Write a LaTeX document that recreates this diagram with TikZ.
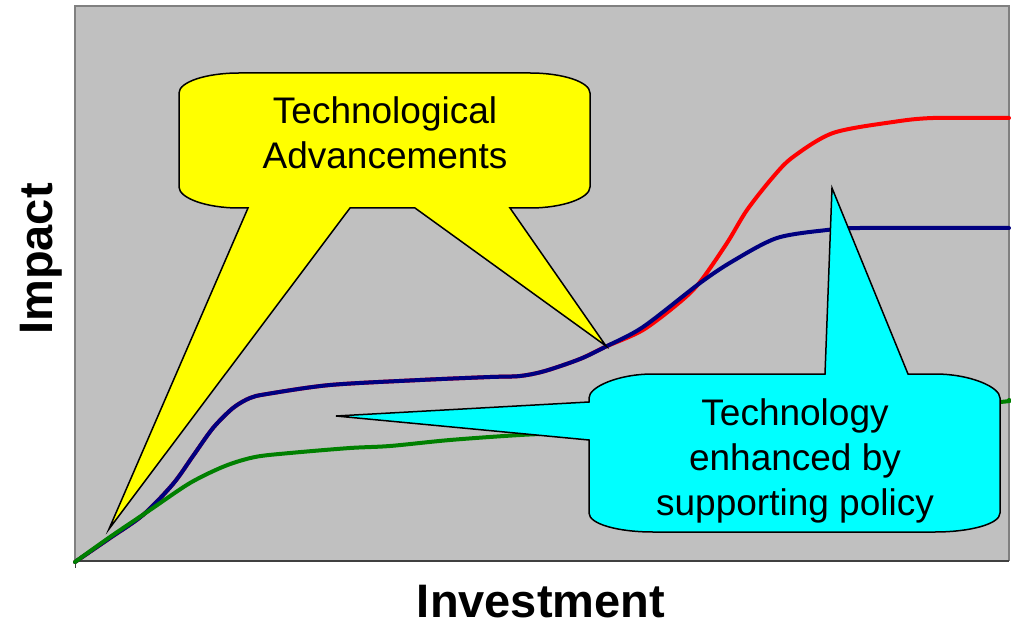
\documentclass[tikz,border=0pt]{standalone}
\usepackage{fontspec}
\setmainfont{Liberation Sans}
\definecolor{fondo}{HTML}{C0C0C0}
\definecolor{borde}{HTML}{808080}
\definecolor{azul}{HTML}{000080}
\definecolor{verde}{HTML}{008000}
\definecolor{amarillo}{HTML}{FFFF00}
\definecolor{cian}{HTML}{00FFFF}
\begin{document}
\begin{tikzpicture}[x=1bp,y=-1bp,
    curva/.style={line width=4bp,line join=round,line cap=round},
    globo/.style={draw=black,line width=1.5bp,line join=miter},
    texto/.style={align=center,inner sep=0pt,font=\fontsize{37bp}{45bp}\selectfont},
    eje/.style={inner sep=0pt,font=\bfseries\fontsize{47bp}{56bp}\selectfont}]
    \useasboundingbox (0,0) rectangle (1011,624);

    % Fondo y ejes
    \fill[fondo] (75,6) rectangle (1009,561);
    \draw[borde,line width=1.5bp] (75,561) -- (75,6) -- (1009,6) -- (1009,561);
    \draw[black!75,line width=1.2bp] (75,561) -- (1009,561);
    \draw[black!75,line width=1bp] (75,561) -- (75,568);

    % Curvas
    \draw[red,curva] plot[smooth,tension=0.5] coordinates {(75,562) (110,538) (143,515) (173,484) (193,456) (213,428) (233,408) (250,398) (267,394) (330,385) (420,380) (490,377) (520,376) (545,371) (580,359) (605,347) (643,330) (680,302) (700,282) (727,243) (747,210) (773,177) (793,157) (833,133) (893,122) (933,118) (1009,118)};
    \draw[azul,curva] plot[smooth,tension=0.5] coordinates {(75,562) (110,538) (143,515) (173,484) (193,456) (213,428) (233,408) (250,398) (267,394) (330,385) (420,380) (490,377) (520,376) (545,371) (580,359) (605,347) (643,327) (700,283) (733,261) (777,238) (827,230) (860,228) (1009,228)};
    \draw[verde,curva] plot[smooth,tension=0.5] coordinates {(75,562) (110,537) (150,510) (190,483) (225,466) (255,457) (290,453) (350,448) (390,446) (450,440) (520,435) (600,431) (750,420) (900,408) (1000,402) (1009,400)};

    % Globo amarillo
    \draw[globo,fill=amarillo] (179,93) .. controls (179,82) and (206,73) .. (239,73) -- (530,73)
        .. controls (563,73) and (590,82) .. (590,93) -- (590,187)
        .. controls (590,198) and (563,208) .. (530,208) -- (510,208) -- (606,346) -- (415,208)
        -- (350,208) -- (109,529) -- (248,208) -- (239,208)
        .. controls (206,208) and (179,198) .. (179,187) -- cycle;
    \node[texto] (avances) at (385,132.5) {Technological\\Advancements};

    % Globo cian
    \draw[globo,fill=cian] (589,398) .. controls (589,387) and (618,374) .. (653,374) -- (825,374)
        -- (832,188) -- (908,374) -- (935,374)
        .. controls (970,374) and (1000,387) .. (1000,398) -- (1000,513)
        .. controls (1000,524) and (970,532) .. (935,532) -- (653,532)
        .. controls (618,532) and (589,524) .. (589,513) -- (589,440) -- (336,416) -- (589,402) -- cycle;
    \node[texto] (politica) at (795,461) {Technology\\enhanced by\\supporting policy};

    % Rótulos de los ejes
    \node[eje,rotate=90] (impacto) at (41,259) {Impact};
    \node[eje] (inversion) at (541,602) {Investment};
\end{tikzpicture}
\end{document}
